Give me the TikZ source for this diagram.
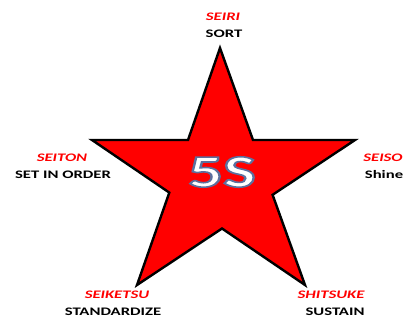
\documentclass[tikz,border=0pt]{standalone}
\usepackage{fontspec}
\setmainfont{Carlito}
\usepackage{graphicx}
\definecolor{starred}{RGB}{255,0,0}
\definecolor{lblred}{RGB}{255,0,0}
\begin{document}
\begin{tikzpicture}[x=1pt,y=-1pt,
  jap/.style={text=lblred,font=\fontsize{11.5}{12}\selectfont\bfseries\itshape,inner sep=0pt},
  eng/.style={text=black,font=\fontsize{11.5}{12}\selectfont\bfseries\upshape,inner sep=0pt},
  starline/.style={draw=black,line width=2.4pt,fill=starred,line join=miter}]
\useasboundingbox (0,0) rectangle (407,320);
\fill[white] (0,0) rectangle (407,320);
% star vertices
\coordinate (T) at (220,48);
\coordinate (IUL) at (188,140);
\coordinate (L) at (92,140);
\coordinate (ILL) at (169.3,192.6);
\coordinate (BL) at (137,285);
\coordinate (IB) at (222,228.5);
\coordinate (BR) at (305,285);
\coordinate (ILR) at (272.6,194.8);
\coordinate (R) at (355,140);
\coordinate (IUR) at (253,140);
\draw[starline] (T) -- (IUR) -- (R) -- (ILR) -- (BR) -- (IB) -- (BL) -- (ILL) -- (L) -- (IUL) -- cycle;
% 5S title: white fill with blue-grey stroke (text render mode 2)
\node (title) [text=white,font=\fontsize{46}{48}\selectfont\bfseries\upshape,inner sep=0pt] at (222,172)
  {\special{pdf:code q 2 Tr 1.6 w 0.36 0.44 0.62 RG}\scalebox{1.5}[1]{5S}\special{pdf:code Q}};
% labels
\node (seiri) [jap] at (223,17) {\scalebox{1.45}[1]{SEIRI}};
\node (sort) [eng] at (224,34) {\scalebox{1.45}[1]{SORT}};
\node (seiton) [jap] at (62,158) {\scalebox{1.45}[1]{SEITON}};
\node (setinorder) [eng] at (63,175) {\scalebox{1.45}[1]{SET IN ORDER}};
\node (seiso) [jap] at (383,158) {\scalebox{1.45}[1]{SEISO}};
\node (shine) [eng] at (384,175) {\scalebox{1.45}[1]{Shine}};
\node (seiketsu) [jap] at (117,295) {\scalebox{1.45}[1]{SEIKETSU}};
\node (standardize) [eng] at (113,312) {\scalebox{1.45}[1]{STANDARDIZE}};
\node (shitsuke) [jap] at (331,295) {\scalebox{1.45}[1]{SHITSUKE}};
\node (sustain) [eng] at (335,312) {\scalebox{1.45}[1]{SUSTAIN}};
\end{tikzpicture}
\end{document}
